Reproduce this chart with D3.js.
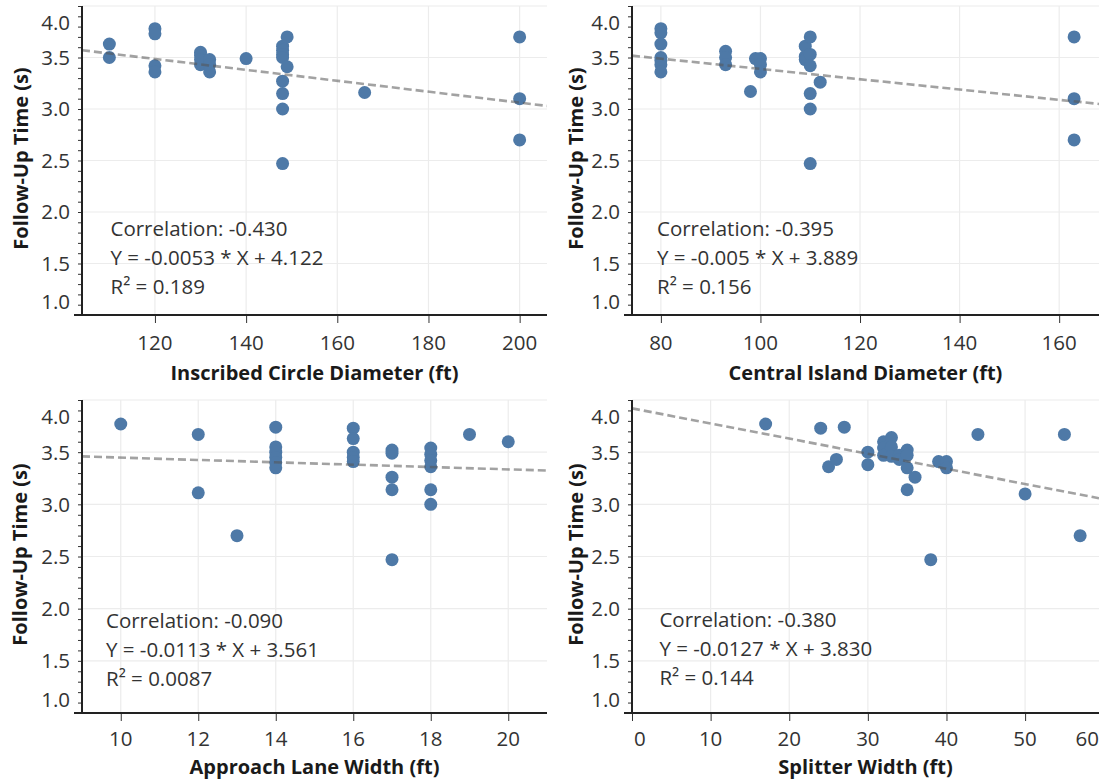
<!DOCTYPE html>
<html>
<head>
<meta charset="utf-8">
<script src="https://cdn.jsdelivr.net/npm/d3@7"></script>
<style>
  body { margin: 0; background: #fff; }
  text { font-family: "Open Sans", sans-serif; }
</style>
</head>
<body>
<svg id="chart"></svg>
<script>
// Follow-up time (s) against four roundabout geometry measures
const xTitles = [
  "Inscribed Circle Diameter (ft)",
  "Central Island Diameter (ft)",
  "Approach Lane Width (ft)",
  "Splitter Width (ft)"
];
const yTitle = "Follow-Up Time (s)";

const icdX = [110, 110, 120, 120, 120, 120, 130, 130, 130, 130, 132, 132, 132, 140,
  148, 148, 148, 148, 148, 148, 148, 148, 149, 149, 166, 200, 200, 200];
const icdY = [3.63, 3.50, 3.78, 3.73, 3.42, 3.36, 3.55, 3.52, 3.48, 3.43, 3.48, 3.43, 3.36, 3.49,
  3.61, 3.57, 3.53, 3.50, 3.27, 3.15, 3.00, 2.47, 3.70, 3.41, 3.16, 3.70, 3.10, 2.70];

const cidX = [80, 80, 80, 80, 80, 80, 80, 93, 93, 93, 98, 99, 100, 100, 100,
  109, 109, 109, 110, 110, 110, 110, 110, 110, 112, 163, 163, 163];
const cidY = [3.78, 3.74, 3.63, 3.50, 3.47, 3.43, 3.36, 3.56, 3.50, 3.43, 3.17, 3.49, 3.49, 3.43, 3.36,
  3.61, 3.51, 3.48, 3.70, 3.53, 3.42, 3.15, 3.00, 2.47, 3.26, 3.70, 3.10, 2.70];

const laneX = [10, 12, 12, 13, 14, 14, 14, 14, 14, 14, 16, 16, 16, 16, 16,
  17, 17, 17, 17, 17, 18, 18, 18, 18, 18, 18, 19, 20];
const laneY = [3.77, 3.67, 3.11, 2.70, 3.74, 3.55, 3.50, 3.45, 3.40, 3.35, 3.73, 3.63, 3.50, 3.45, 3.41,
  3.52, 3.49, 3.26, 3.14, 2.47, 3.54, 3.48, 3.42, 3.36, 3.14, 3.00, 3.67, 3.60];

const splitX = [17, 24, 25, 26, 27, 30, 30, 32, 32, 32, 33, 33, 33, 34, 34,
  35, 35, 35, 35, 36, 38, 39, 40, 40, 44, 50, 55, 57];
const splitY = [3.77, 3.73, 3.36, 3.43, 3.74, 3.50, 3.38, 3.60, 3.54, 3.47, 3.64, 3.55, 3.46, 3.47, 3.43,
  3.52, 3.47, 3.35, 3.14, 3.26, 2.47, 3.41, 3.41, 3.35, 3.67, 3.10, 3.67, 2.70];

const xDomains = [[104, 206], [74.2, 168], [9, 21], [0, 59.4]];
const xTickValues = [
  [120, 140, 160, 180, 200],
  [80, 100, 120, 140, 160],
  [10, 12, 14, 16, 18, 20],
  [0, 10, 20, 30, 40, 50, 60]
];
const yDomain = [1, 4];
const yTickValues = [1.0, 1.5, 2.0, 2.5, 3.0, 3.5, 4.0];

// trend lines as drawn (slope, intercept)
const trendSlopes = [-0.0053, -0.005, -0.0113, -0.0145];
const trendIntercepts = [4.122, 3.889, 3.561, 3.92];

const noteLines = [
  ["Correlation: -0.430", "Y = -0.0053 * X + 4.122", "R\u00b2 = 0.189"],
  ["Correlation: -0.395", "Y = -0.005 * X + 3.889", "R\u00b2 = 0.156"],
  ["Correlation: -0.090", "Y = -0.0113 * X + 3.561", "R\u00b2 = 0.0087"],
  ["Correlation: -0.380", "Y = -0.0127 * X + 3.830", "R\u00b2 = 0.144"]
];

const seriesX = [icdX, cidX, laneX, splitX];
const seriesY = [icdY, cidY, laneY, splitY];

const W = 1099, H = 783;

// pixel box of each pane
const layout = [
  { left: 82, right: 547, top: 6, bottom: 315, yTitleX: 21, noteX: 110.5, noteY: 236, xLabelY: 350, xTitleY: 380 },
  { left: 632, right: 1099, top: 6, bottom: 315, yTitleX: 575.5, noteX: 657, noteY: 236, xLabelY: 350, xTitleY: 380 },
  { left: 82, right: 547, top: 400, bottom: 713, yTitleX: 20, noteX: 106, noteY: 628, xLabelY: 746, xTitleY: 774 },
  { left: 632, right: 1099, top: 400, bottom: 713, yTitleX: 575.5, noteX: 659.4, noteY: 627, xLabelY: 746, xTitleY: 774 }
];

const svg = d3.select("#chart")
  .attr("width", W)
  .attr("height", H)
  .attr("viewBox", `0 0 ${W} ${H}`);

svg.append("rect").attr("width", W).attr("height", H).attr("fill", "#fff");

layout.forEach((L, i) => {
  const x = d3.scaleLinear().domain(xDomains[i]).range([L.left, L.right]);
  const y = d3.scaleLinear().domain(yDomain).range([L.bottom, L.top]);
  const g = svg.append("g");

  const clipId = "clip" + i;
  svg.append("clipPath").attr("id", clipId)
    .append("rect")
    .attr("x", L.left).attr("y", L.top)
    .attr("width", L.right - L.left).attr("height", L.bottom - L.top);

  // grid
  const xt = xTickValues[i].filter(v => x(v) <= L.right);
  g.append("g").selectAll("line")
    .data(xt)
    .join("line")
    .attr("x1", d => x(d)).attr("x2", d => x(d))
    .attr("y1", L.top).attr("y2", L.bottom)
    .attr("stroke", "#ececec").attr("stroke-width", 1.2);
  g.append("g").selectAll("line")
    .data(yTickValues.slice(1))
    .join("line")
    .attr("x1", L.left).attr("x2", L.right)
    .attr("y1", d => y(d)).attr("y2", d => y(d))
    .attr("stroke", "#ececec").attr("stroke-width", 1.2);

  // points
  const pts = seriesX[i].map((v, k) => ({ x: v, y: seriesY[i][k] }));
  g.append("g").selectAll("circle")
    .data(pts)
    .join("circle")
    .attr("cx", d => x(d.x))
    .attr("cy", d => y(d.y))
    .attr("r", 6.5)
    .attr("fill", "#4e79a7");

  // trend line
  const [x0, x1] = xDomains[i];
  g.append("line")
    .attr("clip-path", `url(#${clipId})`)
    .attr("x1", x(x0)).attr("y1", y(trendSlopes[i] * x0 + trendIntercepts[i]))
    .attr("x2", x(x1)).attr("y2", y(trendSlopes[i] * x1 + trendIntercepts[i]))
    .attr("stroke", "#555")
    .attr("stroke-opacity", 0.55)
    .attr("stroke-width", 2.6)
    .attr("stroke-dasharray", "8,4");

  // y axis: minor ticks every 0.1
  const yAxis = d3.axisLeft(y)
    .tickValues(d3.range(10, 41).map(v => v / 10))
    .tickSize(4)
    .tickFormat("");
  const ya = g.append("g").attr("transform", `translate(${L.left},0)`).call(yAxis);
  ya.select(".domain").remove();
  ya.selectAll("line").attr("stroke", "#333");

  const xAxis = d3.axisBottom(x).tickValues(xt).tickSize(8).tickFormat("");
  const xa = g.append("g").attr("transform", `translate(0,${L.bottom})`).call(xAxis);
  xa.select(".domain").remove();
  xa.selectAll("line").attr("stroke", "#333");

  // axis lines
  g.append("line")
    .attr("x1", L.left).attr("x2", L.left)
    .attr("y1", L.top).attr("y2", L.bottom)
    .attr("stroke", "#222").attr("stroke-width", 2);
  g.append("line")
    .attr("x1", L.left - 8).attr("x2", L.right)
    .attr("y1", L.bottom).attr("y2", L.bottom)
    .attr("stroke", "#222").attr("stroke-width", 2);

  // y tick labels, end ones kept inside the pane
  g.append("g").selectAll("text")
    .data(yTickValues)
    .join("text")
    .attr("x", L.left - 12)
    .attr("y", d => Math.min(Math.max(y(d), L.top + 16.5), L.bottom - 13.5))
    .attr("dy", "0.36em")
    .attr("text-anchor", "end")
    .attr("font-size", 20.5)
    .attr("fill", "#333")
    .text(d => d.toFixed(1));

  // x tick labels
  g.append("g").selectAll("text")
    .data(xTickValues[i])
    .join("text")
    .attr("y", L.xLabelY)
    .attr("text-anchor", "middle")
    .attr("font-size", 20.5)
    .attr("fill", "#333")
    .text(d => d)
    .attr("x", function (d) {
      const w = this.getComputedTextLength();
      return Math.min(Math.max(x(d), L.left + w / 2 + 2), W - w / 2);
    });

  // axis titles
  g.append("text")
    .attr("x", (L.left + L.right) / 2)
    .attr("y", L.xTitleY)
    .attr("text-anchor", "middle")
    .attr("font-size", 20)
    .attr("font-weight", 700)
    .attr("fill", "#1a1a1a")
    .text(xTitles[i]);

  g.append("text")
    .attr("transform", `translate(${L.yTitleX},${(L.top + L.bottom) / 2 - 2}) rotate(-90)`)
    .attr("dy", "0.35em")
    .attr("text-anchor", "middle")
    .attr("font-size", 20)
    .attr("font-weight", 700)
    .attr("fill", "#1a1a1a")
    .text(yTitle);

  // correlation note
  g.append("g").selectAll("text")
    .data(noteLines[i])
    .join("text")
    .attr("x", L.noteX)
    .attr("y", (d, k) => L.noteY + k * 29)
    .attr("font-size", 20.5)
    .attr("fill", "#333")
    .text(d => d);
});
</script>
</body>
</html>
